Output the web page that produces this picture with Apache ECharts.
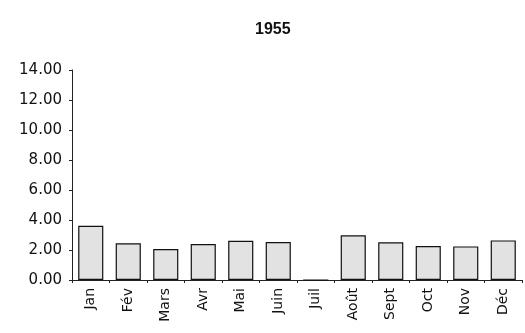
<!DOCTYPE html>
<html>
<head>
<meta charset="utf-8">
<script src="https://cdn.jsdelivr.net/npm/echarts@6/dist/echarts.min.js"></script>
<style>
  html, body { margin: 0; padding: 0; background: #fff; }
  #chart { width: 525px; height: 333px; }
</style>
</head>
<body>
<div id="chart"></div>
<script>
var months = ['Jan', 'Fév', 'Mars', 'Avr', 'Mai', 'Juin', 'Juil', 'Août', 'Sept', 'Oct', 'Nov', 'Déc'];
var values = [3.62, 2.45, 2.07, 2.4, 2.62, 2.53, 0, 2.98, 2.51, 2.27, 2.24, 2.64];

var chartDom = document.getElementById('chart');
var myChart = echarts.init(chartDom);
var option;

option = {
  animation: false,
  title: {
    text: '1955',
    left: 250,
    top: 17,
    textStyle: {
      fontFamily: 'Liberation Sans',
      fontWeight: 'bold',
      fontSize: 16,
      color: '#111'
    }
  },
  grid: {
    left: 72,
    right: 3,
    top: 70,
    bottom: 53
  },
  xAxis: {
    type: 'category',
    data: months,
    axisLine: { lineStyle: { color: '#222', width: 1 } },
    axisTick: { show: true, length: 3, lineStyle: { color: '#222' } },
    axisLabel: {
      rotate: 90,
      color: '#111',
      fontFamily: 'DejaVu Sans',
      fontSize: 14,
      margin: 8
    }
  },
  yAxis: {
    type: 'value',
    min: 0,
    max: 14,
    interval: 2,
    axisLine: { show: true, lineStyle: { color: '#222', width: 1 } },
    axisTick: { show: true, length: 3, lineStyle: { color: '#222' } },
    splitLine: { show: false },
    axisLabel: {
      color: '#111',
      fontFamily: 'DejaVu Sans',
      fontSize: 15,
      margin: 10,
      formatter: function (v) { return v.toFixed(2); }
    }
  },
  series: [
    {
      type: 'bar',
      data: values,
      barWidth: '67%',
      itemStyle: {
        color: '#e2e2e2',
        borderColor: '#111',
        borderWidth: 1.2
      }
    }
  ]
};

option && myChart.setOption(option);
</script>
</body>
</html>
